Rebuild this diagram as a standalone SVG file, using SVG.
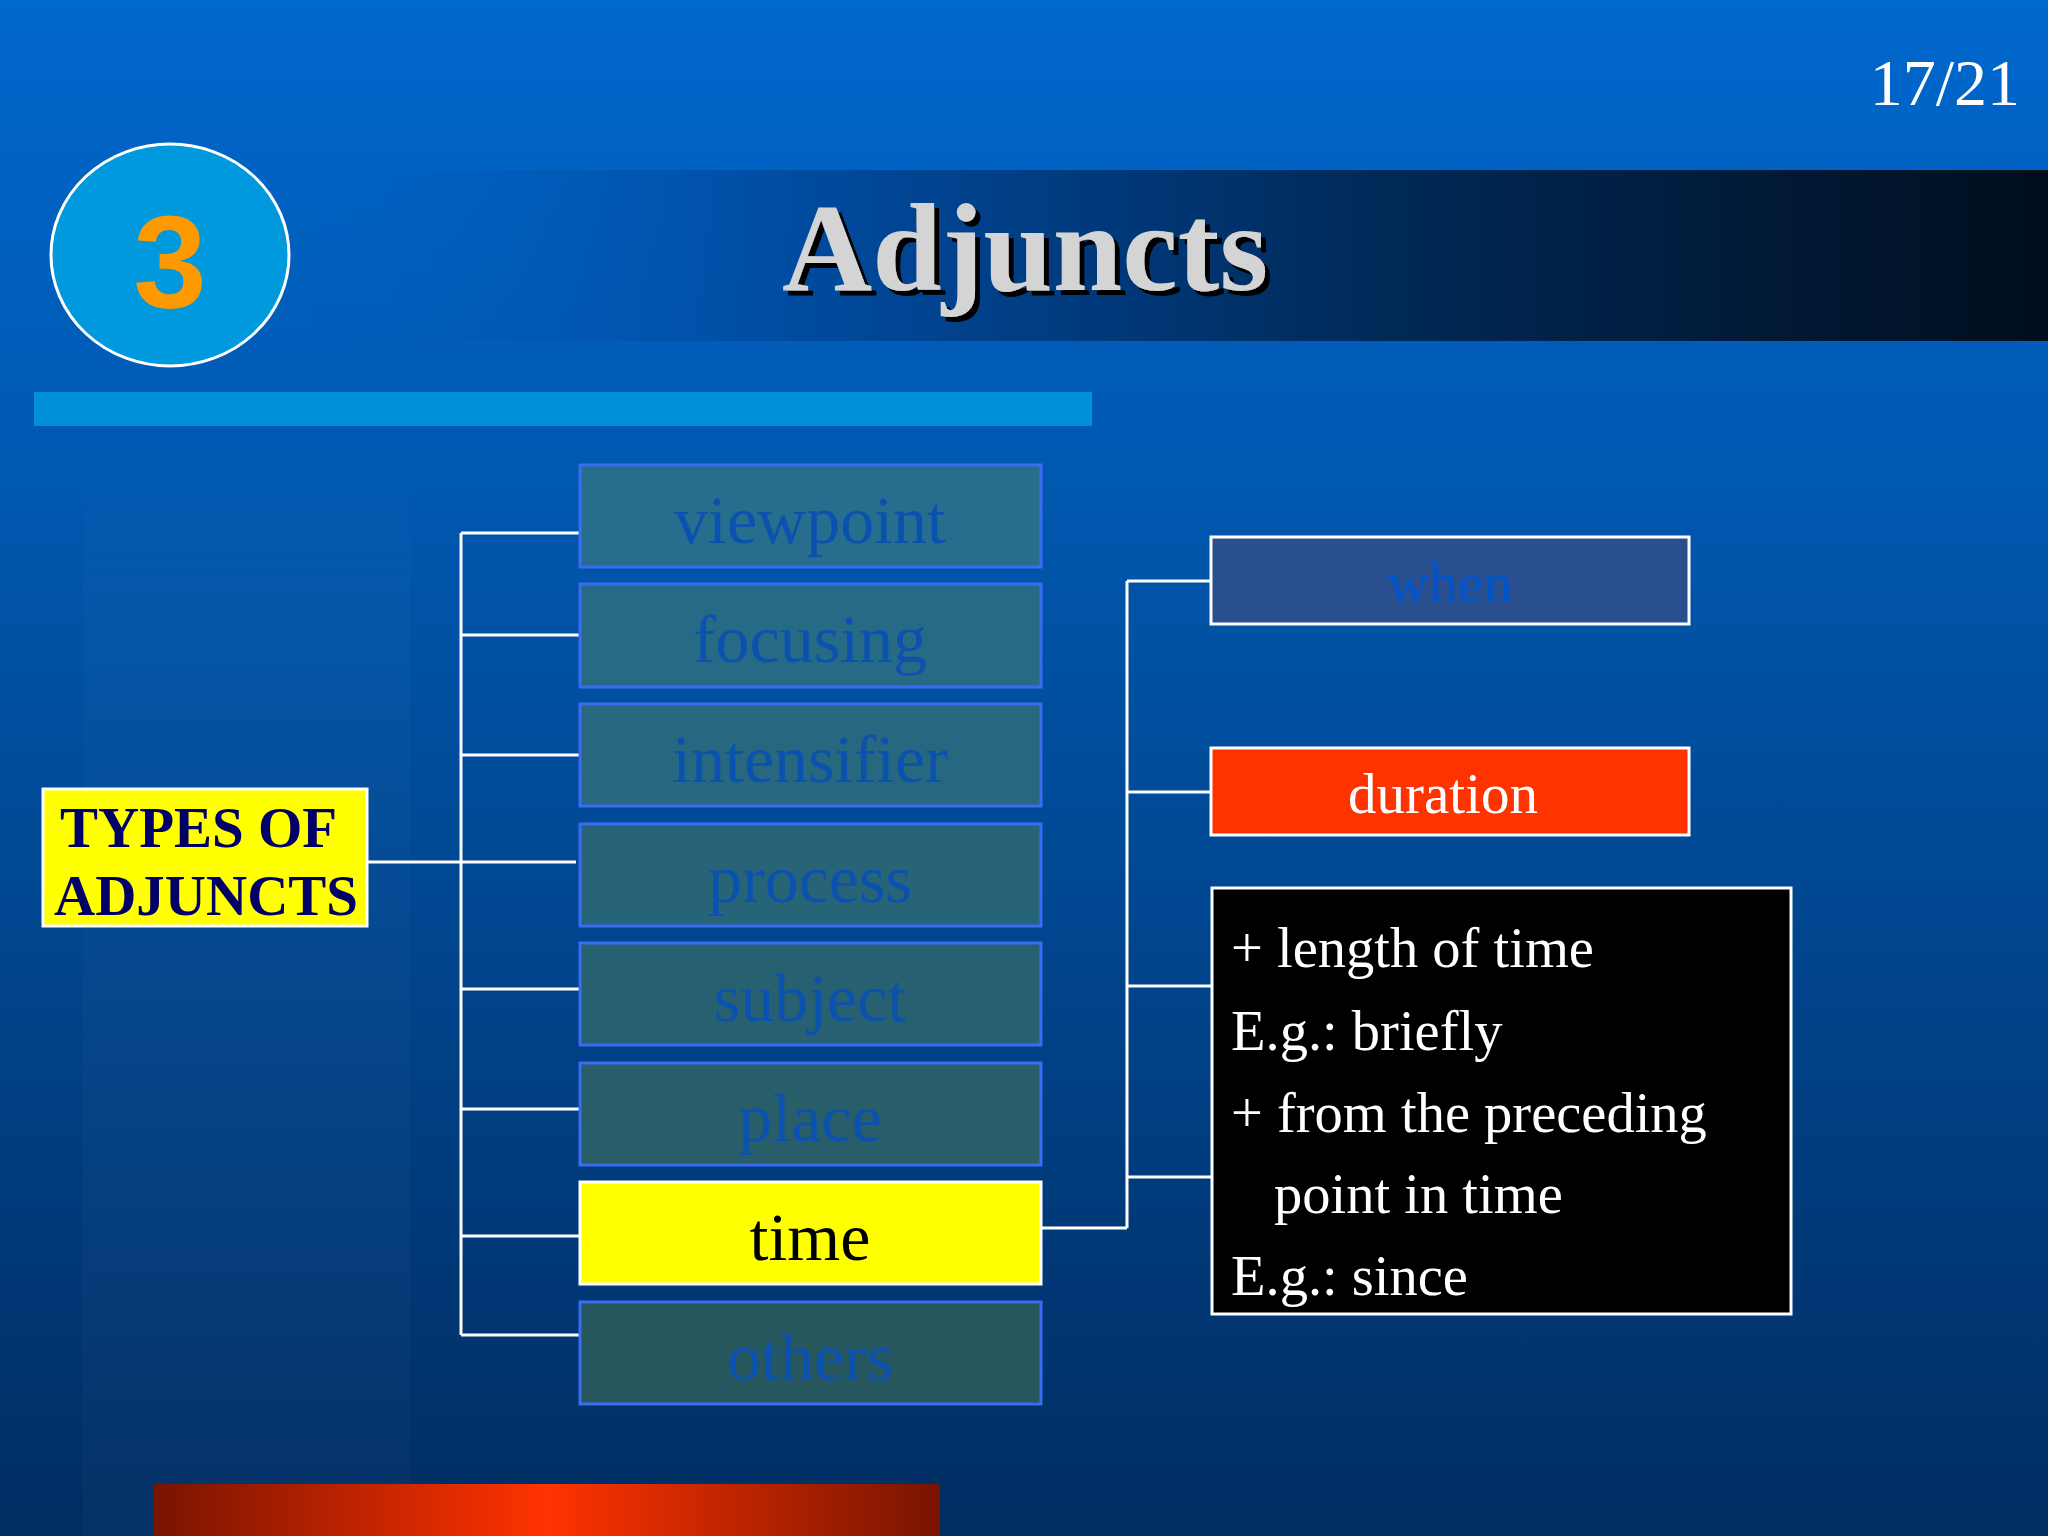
<svg xmlns="http://www.w3.org/2000/svg" width="2048" height="1536" viewBox="0 0 2048 1536">
<defs>
<linearGradient id="bg" x1="0" y1="0" x2="0" y2="1">
<stop offset="0" stop-color="#0068CE"/>
<stop offset="0.35" stop-color="#0056AC"/>
<stop offset="1" stop-color="#002D62"/>
</linearGradient>
<linearGradient id="band" x1="290" y1="0" x2="2048" y2="0" gradientUnits="userSpaceOnUse">
<stop offset="0" stop-color="#005CBA" stop-opacity="0"/>
<stop offset="0.3" stop-color="#004A9E"/>
<stop offset="0.6" stop-color="#002B5C"/>
<stop offset="1" stop-color="#000E1E"/>
</linearGradient>
<linearGradient id="red" x1="0" y1="0" x2="1" y2="0">
<stop offset="0" stop-color="#781400"/>
<stop offset="0.5" stop-color="#FF3300"/>
<stop offset="1" stop-color="#781400"/>
</linearGradient>
<linearGradient id="strip" x1="0" y1="0" x2="0" y2="1">
<stop offset="0" stop-color="#ffffff" stop-opacity="0"/>
<stop offset="0.15" stop-color="#ffffff" stop-opacity="0.018"/>
<stop offset="1" stop-color="#ffffff" stop-opacity="0.022"/>
</linearGradient>
<filter id="shadow" x="-5%" y="-10%" width="115%" height="130%">
<feDropShadow dx="5" dy="5" stdDeviation="0.6" flood-color="#000000" flood-opacity="1"/>
</filter>
<style>
.lbl{font-family:"Liberation Serif","Times New Roman",serif;font-size:68px;text-anchor:middle}
.faded{fill:#0B52B0}
.box{stroke:#3A6CF2;stroke-width:3}
.conn{stroke:#FFFFFF;stroke-width:3;fill:none}
.body{font-family:"Liberation Serif","Times New Roman",serif;font-size:56.5px;fill:#FFFFFF}
</style>
</defs>

<rect x="0" y="0" width="2048" height="1536" fill="url(#bg)"/>
<rect x="83" y="430" width="327" height="1106" fill="url(#strip)"/>
<rect x="290" y="170" width="1758" height="171" fill="url(#band)"/>
<rect x="34" y="392" width="1058" height="34" fill="#0090D8"/>
<rect x="154" y="1484" width="786" height="52" fill="url(#red)"/>

<text x="2020" y="105" font-family="Liberation Serif, Times New Roman, serif" font-size="66" fill="#FFFFFF" text-anchor="end">17/21</text>

<g id="badge">
<ellipse cx="170" cy="255" rx="119" ry="111" fill="#0099DD" stroke="#FFFFFF" stroke-width="3"/>
<text x="170" y="308" font-family="Liberation Sans, Arial, sans-serif" font-weight="bold" font-size="132" fill="#FF9900" text-anchor="middle">3</text>
</g>

<g id="title">
<text x="1025" y="290" font-family="Liberation Serif, Times New Roman, serif" font-weight="bold" font-size="125" fill="#D4D4D4" text-anchor="middle" filter="url(#shadow)">Adjuncts</text>
</g>

<g id="connectors">
<line class="conn" x1="368" y1="862" x2="576" y2="862"/>
<line class="conn" x1="461" y1="533" x2="461" y2="1335"/>
<line class="conn" x1="461" y1="533" x2="580" y2="533"/>
<line class="conn" x1="461" y1="635" x2="580" y2="635"/>
<line class="conn" x1="461" y1="755" x2="580" y2="755"/>
<line class="conn" x1="461" y1="989" x2="580" y2="989"/>
<line class="conn" x1="461" y1="1109" x2="580" y2="1109"/>
<line class="conn" x1="461" y1="1236" x2="580" y2="1236"/>
<line class="conn" x1="461" y1="1335" x2="580" y2="1335"/>
<line class="conn" x1="1042" y1="1228" x2="1127" y2="1228"/>
<line class="conn" x1="1127" y1="581" x2="1127" y2="1228"/>
<line class="conn" x1="1127" y1="581" x2="1211" y2="581"/>
<line class="conn" x1="1127" y1="792" x2="1211" y2="792"/>
<line class="conn" x1="1127" y1="986" x2="1211" y2="986"/>
<line class="conn" x1="1127" y1="1177" x2="1211" y2="1177"/>
</g>

<g id="types">
<rect x="43" y="789" width="324" height="137" fill="#FFFF00" stroke="#FFFFFF" stroke-width="3"/>
<text x="60" y="847" font-family="Liberation Serif, Times New Roman, serif" font-weight="bold" font-size="57" fill="#000066">TYPES OF</text>
<text x="54" y="915" font-family="Liberation Serif, Times New Roman, serif" font-weight="bold" font-size="57" fill="#000066">ADJUNCTS</text>
</g>

<g id="viewpoint">
<rect class="box" x="580" y="465" width="461" height="102" fill="#276D8D"/>
<text class="lbl faded" x="810" y="543">viewpoint</text>
</g>
<g id="focusing">
<rect class="box" x="580" y="584" width="461" height="103" fill="#276A86"/>
<text class="lbl faded" x="810" y="662">focusing</text>
</g>
<g id="intensifier">
<rect class="box" x="580" y="704" width="461" height="102" fill="#27677F"/>
<text class="lbl faded" x="810" y="782">intensifier</text>
</g>
<g id="process">
<rect class="box" x="580" y="824" width="461" height="102" fill="#276478"/>
<text class="lbl faded" x="810" y="902">process</text>
</g>
<g id="subject">
<rect class="box" x="580" y="943" width="461" height="102" fill="#276171"/>
<text class="lbl faded" x="810" y="1021">subject</text>
</g>
<g id="place">
<rect class="box" x="580" y="1063" width="461" height="102" fill="#275E6A"/>
<text class="lbl faded" x="810" y="1141">place</text>
</g>
<g id="time">
<rect x="580" y="1182" width="461" height="102" fill="#FFFF00" stroke="#FFFFFF" stroke-width="3"/>
<text class="lbl" x="810" y="1260" fill="#000000">time</text>
</g>
<g id="others">
<rect class="box" x="580" y="1302" width="461" height="102" fill="#27575E"/>
<text class="lbl faded" x="810" y="1380">others</text>
</g>

<g id="when">
<rect x="1211" y="537" width="478" height="87" fill="#2A4F8F" stroke="#FFFFFF" stroke-width="3"/>
<text x="1450" y="602" font-family="Liberation Serif, Times New Roman, serif" font-size="58" fill="#0055CC" text-anchor="middle">when</text>
</g>

<g id="duration">
<rect x="1211" y="748" width="478" height="87" fill="#FF3300" stroke="#FFFFFF" stroke-width="3"/>
<text x="1443" y="813" font-family="Liberation Serif, Times New Roman, serif" font-size="57" fill="#FFFFFF" text-anchor="middle">duration</text>
</g>

<g id="details">
<rect x="1212" y="888" width="579" height="426" fill="#000000" stroke="#FFFFFF" stroke-width="3"/>
<text class="body" x="1231" y="967">+ length of time</text>
<text class="body" x="1231" y="1050">E.g.: briefly</text>
<text class="body" x="1231" y="1132">+ from the preceding</text>
<text class="body" x="1274" y="1213">point in time</text>
<text class="body" x="1231" y="1295">E.g.: since</text>
</g>
</svg>
